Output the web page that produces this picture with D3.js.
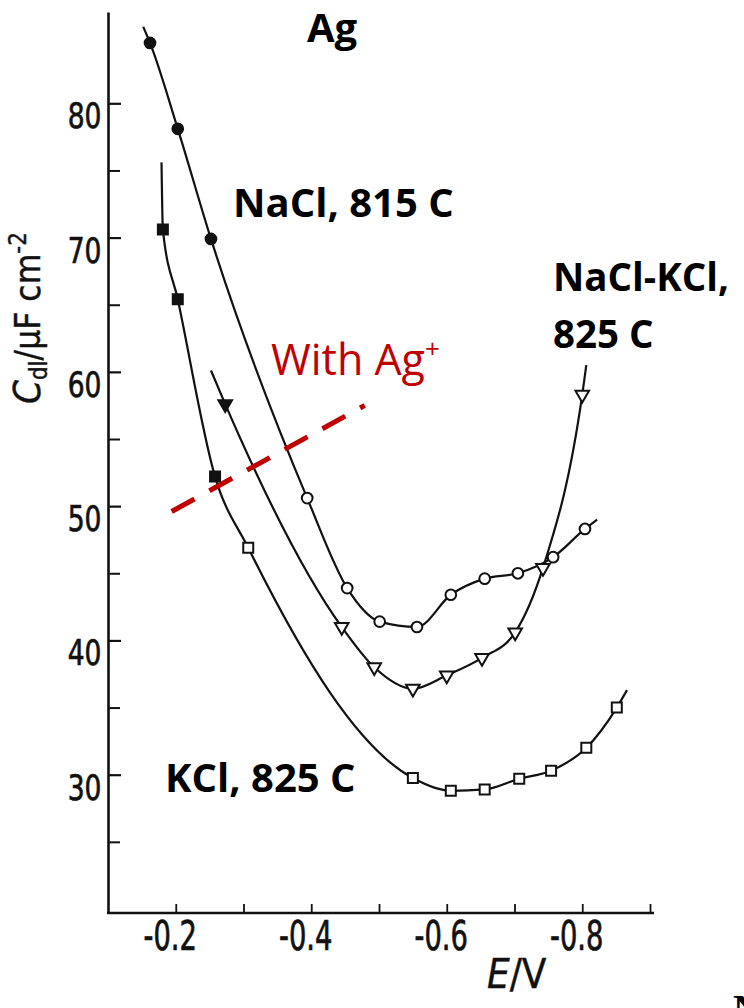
<!DOCTYPE html>
<html>
<head>
<meta charset="utf-8">
<script src="https://cdn.jsdelivr.net/npm/d3@7"></script>
<style>
  body { margin: 0; background: #fff; }
  svg { display: block; }
  .axis text, text.axtitle { font-family: "Liberation Sans Narrow", "DejaVu Sans Condensed", sans-serif; font-stretch: condensed; font-size: 36px; fill: #111; stroke: #111; stroke-width: 0.7px; }
  .axis path, .axis line { stroke: #111; }
  .lbl { font-family: "Open Sans", "Liberation Sans", sans-serif; font-weight: 700; fill: #000; }
</style>
</head>
<body>
<svg id="chart" width="744" height="1008"></svg>
<script>
// NaCl, 815 C  (circles)
const naclE = [-0.162, -0.203, -0.252, -0.394, -0.453, -0.501, -0.556, -0.606, -0.656, -0.705, -0.757, -0.804];
const naclC = [84.5, 78.1, 69.9, 50.6, 43.9, 41.4, 41.0, 43.4, 44.6, 45.0, 46.2, 48.3];
const naclAg = [true, true, true, false, false, false, false, false, false, false, false, false];
const naclEnds = [[-0.152, 85.7], [-0.822, 49.0]];

// NaCl-KCl, 825 C  (triangles)
const mixE = [-0.273, -0.445, -0.493, -0.550, -0.600, -0.652, -0.701, -0.742, -0.800];
const mixC = [57.6, 41.0, 38.0, 36.4, 37.4, 38.7, 40.6, 45.4, 58.3];
const mixAg = [true, false, false, false, false, false, false, false, false];
const mixEnds = [[-0.252, 60.1], [-0.806, 60.5]];

// KCl, 825 C  (squares)
const kclE = [-0.181, -0.203, -0.258, -0.307, -0.550, -0.606, -0.656, -0.707, -0.754, -0.806, -0.851];
const kclC = [70.6, 65.4, 52.2, 46.9, 29.75, 28.8, 28.9, 29.7, 30.3, 32.0, 35.0];
const kclAg = [true, true, true, false, false, false, false, false, false, false, false];
const kclEnds = [[-0.179, 75.6], [-0.866, 36.3]];

// "With Ag+" boundary line
const agLineE = [-0.194, -0.479];
const agLineC = [49.6, 57.5];

// axis ticks
const xTicks = [-0.2, -0.3, -0.4, -0.5, -0.6, -0.7, -0.8, -0.9];
const xLabelled = [-0.2, -0.4, -0.6, -0.8];
const yMajor = [30, 40, 50, 60, 70, 80];
const yMinor = [25, 35, 45, 55, 65, 75];

const svg = d3.select('#chart');

const x = d3.scaleLinear().domain([-0.1, -0.9]).range([108, 650]);
const y = d3.scaleLinear().domain([19.7, 86.8]).range([913, 12]);

// axes
const yAxis = svg.append('g')
    .attr('class', 'axis')
    .attr('transform', 'translate(108,0)')
    .call(d3.axisLeft(y).tickValues(yMajor).tickSize(-13).tickSizeOuter(0).tickPadding(8).tickFormat(d3.format('d')));
yAxis.select('.domain').attr('stroke-width', 2.6);
yAxis.selectAll('.tick line').attr('stroke-width', 2.2);
yAxis.selectAll('.tick text').attr('transform', 'translate(0,13) scale(0.82,1)');

const yMinorAxis = svg.append('g')
    .attr('class', 'axis')
    .attr('transform', 'translate(108,0)')
    .call(d3.axisLeft(y).tickValues(yMinor).tickSize(-12).tickFormat(''));
yMinorAxis.select('.domain').remove();
yMinorAxis.selectAll('.tick line').attr('stroke-width', 2);

const xAxis = svg.append('g')
    .attr('class', 'axis')
    .attr('transform', 'translate(0,913)')
    .call(d3.axisBottom(x).tickValues(xTicks).tickSize(-9).tickSizeOuter(0).tickPadding(9)
        .tickFormat(d => xLabelled.includes(d) ? '-' + d3.format('.1f')(-d) : ''));
xAxis.select('.domain').attr('stroke-width', 2.6).attr('d', 'M107,0H654');
xAxis.selectAll('.tick line').attr('stroke-width', 1.8);
xAxis.selectAll('.tick text').style('font-size', '40px').attr('transform', 'translate(-6,0) scale(0.76,1)');

// axis titles
const yTitle = svg.append('text')
    .attr('class', 'axtitle')
    .attr('transform', 'translate(40,404) rotate(-90)')
    .style('font-size', '35px')
    .style('stroke-width', '0.4px');
yTitle.append('tspan').attr('font-style', 'italic').style('font-size', '38px').text('C');
yTitle.append('tspan').attr('font-size', '24px').attr('dy', 7).text('dl');
yTitle.append('tspan').attr('dy', -7).text('/\u03bcF cm');
yTitle.append('tspan').attr('font-size', '24px').attr('dy', -14).text('-2');

const xTitle = svg.append('text')
    .attr('class', 'axtitle')
    .attr('x', 487).attr('y', 988)
    .style('font-size', '40px')
    .style('stroke-width', '0.4px');
xTitle.append('tspan').attr('font-style', 'italic').text('E');
xTitle.append('tspan').text('/V');

// curves
const line = d3.line().x(d => x(d[0])).y(d => y(d[1])).curve(d3.curveMonotoneX);

const series = [
    { E: naclE, C: naclC, ag: naclAg, ends: naclEnds, sym: d3.symbolCircle, size: 90, rot: 0 },
    { E: mixE, C: mixC, ag: mixAg, ends: mixEnds, sym: d3.symbolTriangle, size: 80, rot: 180 },
    { E: kclE, C: kclC, ag: kclAg, ends: kclEnds, sym: d3.symbolSquare, size: 100, rot: 0 }
];

series.forEach(s => {
    const pts = s.E.map((e, i) => [e, s.C[i]]);
    const path = [s.ends[0], ...pts, s.ends[1]];
    svg.append('path')
        .attr('d', line(path))
        .attr('fill', 'none')
        .attr('stroke', '#111')
        .attr('stroke-width', 2.2);
    svg.append('g').selectAll('path')
        .data(pts)
        .join('path')
        .attr('d', d3.symbol().type(s.sym).size(s.size))
        .attr('transform', d => `translate(${x(d[0])},${y(d[1])}) rotate(${s.rot})`)
        .attr('fill', (d, i) => s.ag[i] ? '#111' : '#fff')
        .attr('stroke', '#111')
        .attr('stroke-width', 2);
});

// boundary for Ag+ addition
svg.append('line')
    .attr('x1', x(agLineE[0])).attr('y1', y(agLineC[0]))
    .attr('x2', x(agLineE[1])).attr('y2', y(agLineC[1]))
    .attr('stroke', '#c00000')
    .attr('stroke-width', 5)
    .attr('stroke-dasharray', '26,17');

// labels
svg.append('text').attr('class', 'lbl').attr('x', 307).attr('y', 42).style('font-size', '40px').text('Ag');
svg.append('text').attr('class', 'lbl').attr('x', 233).attr('y', 217).style('font-size', '40px').text('NaCl, 815 C');
svg.append('text').attr('class', 'lbl').attr('x', 553).attr('y', 291).style('font-size', '38.5px').text('NaCl-KCl,');
svg.append('text').attr('class', 'lbl').attr('x', 553).attr('y', 348).style('font-size', '38.5px').text('825 C');
svg.append('text').attr('class', 'lbl').attr('x', 165).attr('y', 792).style('font-size', '40px').text('KCl, 825 C');

const ag = svg.append('text')
    .attr('x', 271).attr('y', 375)
    .style('font-family', '"Open Sans", "Liberation Sans", sans-serif')
    .style('font-size', '43px')
    .attr('fill', '#c00000');
ag.append('tspan').text('With Ag');
ag.append('tspan').attr('font-size', '26px').attr('dy', -17).text('+');

// clipped glyph at the bottom-right edge
svg.append('text')
    .attr('x', 733).attr('y', 1022)
    .style('font-family', '"Liberation Serif", serif')
    .style('font-weight', 700)
    .style('font-size', '40px')
    .text('N');
</script>
</body>
</html>
